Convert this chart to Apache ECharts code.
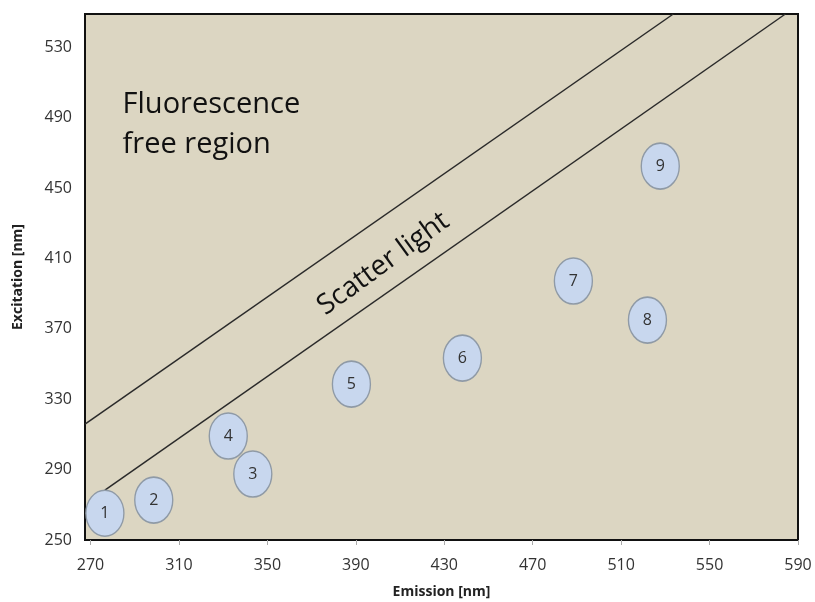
<!DOCTYPE html>
<html>
<head>
<meta charset="utf-8">
<script src="https://cdn.jsdelivr.net/npm/echarts@6/dist/echarts.min.js"></script>
<style>
  html, body { margin: 0; padding: 0; background: #fff; }
  #chart { width: 815px; height: 602px; }
</style>
</head>
<body>
<div id="chart"></div>
<script>
// sample points
const sampleIds = ['1', '2', '3', '4', '5', '6', '7', '8', '9'];
const emission = [276.5, 298.6, 343.4, 332.3, 388, 438.2, 488.4, 521.9, 527.7];
const excitation = [265.2, 272.7, 287.5, 309.1, 338.6, 353.4, 397.2, 375, 462.5];

// scatter light band borders
const upperLine = [[267.5, 315.9], [533.6, 549]];
const lowerLine = [[276.5, 278.4], [584.3, 549]];

const xTicks = [270, 310, 350, 390, 430, 470, 510, 550, 590];
const yTicks = [250, 290, 330, 370, 410, 450, 490, 530];

const font = '"Open Sans", "Noto Sans", sans-serif';
const ellipse = 'path://M0,50 A50,50 0 1,1 100,50 A50,50 0 1,1 0,50 Z';

let chart = echarts.init(document.getElementById('chart'), null, { renderer: 'canvas' });

let points = [];
for (let i = 0; i < sampleIds.length; i++) {
  points.push({ value: [emission[i], excitation[i]], name: sampleIds[i] });
}

let option = {
  animation: false,
  backgroundColor: '#fff',
  textStyle: { fontFamily: font },
  grid: {
    left: 85,
    right: 17,
    top: 14,
    bottom: 62,
    outerBoundsMode: 'none',
    containLabel: false,
    show: true,
    backgroundColor: '#dcd6c2',
    borderColor: '#111',
    borderWidth: 2,
  },
  xAxis: {
    type: 'value',
    min: 267.5,
    max: 590,
    name: 'Emission [nm]',
    nameLocation: 'middle',
    nameGap: 45,
    nameTextStyle: { fontSize: 14, fontWeight: 'bold', color: '#222', fontFamily: font },
    axisLine: { show: false },
    axisTick: { show: true, customValues: xTicks, length: 5, lineStyle: { color: '#aaa' } },
    axisLabel: { customValues: xTicks, fontSize: 16, color: '#333', margin: 17 },
    splitLine: { show: false },
  },
  yAxis: {
    type: 'value',
    min: 250,
    max: 549,
    name: 'Excitation [nm]',
    nameLocation: 'middle',
    nameGap: 60,
    nameTextStyle: { fontSize: 14, fontWeight: 'bold', color: '#222', fontFamily: font },
    axisLine: { show: false },
    axisTick: { show: false },
    axisLabel: { customValues: yTicks, fontSize: 16, color: '#333', margin: 13 },
    splitLine: { show: false },
  },
  series: [
    {
      type: 'line',
      data: upperLine,
      symbol: 'none',
      lineStyle: { color: '#2a2a2a', width: 1.5 },
      silent: true,
    },
    {
      type: 'line',
      data: lowerLine,
      symbol: 'none',
      lineStyle: { color: '#2a2a2a', width: 1.5 },
      silent: true,
    },
    {
      type: 'scatter',
      data: points,
      symbol: ellipse,
      symbolSize: [38, 46],
      itemStyle: { color: '#c8d7ee', borderColor: '#8f9aa6', borderWidth: 1.5, opacity: 1 },
      label: {
        show: true,
        position: 'inside',
        formatter: p => p.name,
        fontSize: 16,
        color: '#333',
      },
      z: 5,
    },
    {
      // annotation texts placed in data space
      type: 'scatter',
      symbol: 'circle',
      symbolSize: 1,
      itemStyle: { color: 'rgba(0,0,0,0)' },
      silent: true,
      data: [
        {
          value: [284.5, 485.8],
          label: {
            show: true,
            position: 'inside',
            align: 'left',
            formatter: 'Fluorescence\nfree region',
            fontSize: 29,
            lineHeight: 40,
            color: '#111',
            opacity: 1,
          },
        },
        {
          value: [402.5, 407],
          label: {
            show: true,
            position: 'inside',
            rotate: 36,
            formatter: 'Scatter light',
            fontSize: 28,
            color: '#111',
            opacity: 1,
          },
        },
      ],
      z: 6,
    },
  ],
};
chart.setOption(option);
</script>
</body>
</html>
